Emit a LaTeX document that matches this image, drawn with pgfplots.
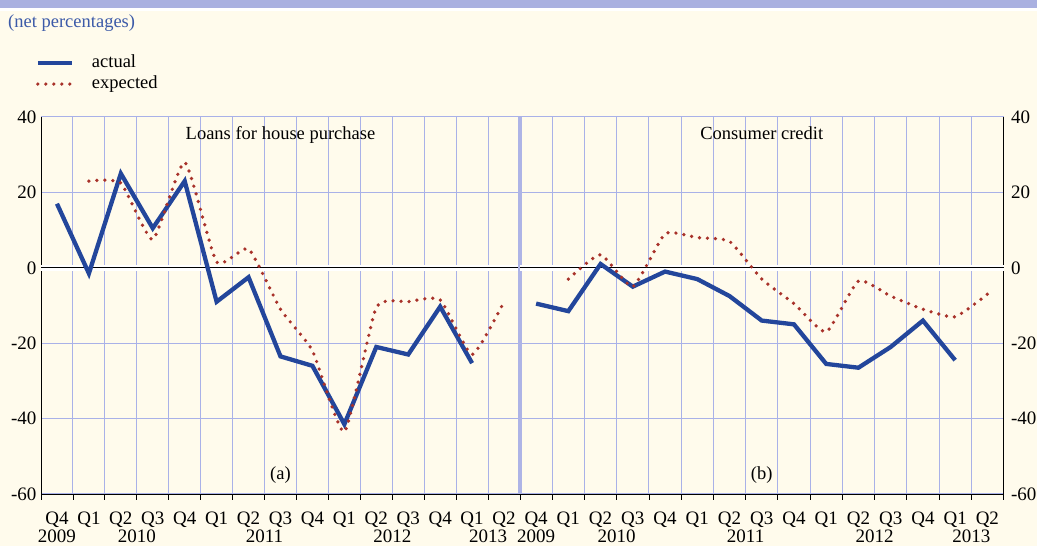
\documentclass[border=0pt]{standalone}
\usepackage{pgfplots}
\pgfplotsset{compat=1.18}
\usepackage{fontspec}
\setmainfont{Liberation Serif}
\definecolor{bg}{HTML}{FFFBEC}
\definecolor{band}{HTML}{A9B0E0}
\definecolor{gridc}{HTML}{A9B1E8}
\definecolor{sepc}{HTML}{AEB4E6}
\definecolor{actc}{HTML}{23469B}
\definecolor{expc}{HTML}{A8322A}
\definecolor{titc}{HTML}{3C5AA8}
\newcommand\fs{\fontsize{18.5}{21}\selectfont}
\newcommand\ft{\fontsize{19}{22}\selectfont}

\tikzset{yr/.style={font=\ft, anchor=base, yshift=-49pt}}
\pgfplotsset{
  panel/.style={
    scale only axis, anchor=south west,
    height=377pt, xmin=0, xmax=15, ymin=-60, ymax=40,
    clip=false,
    axis x line*=bottom,
    xtick={0.5,1.5,...,14.5},
    xticklabels={Q4,Q1,Q2,Q3,Q4,Q1,Q2,Q3,Q4,Q1,Q2,Q3,Q4,Q1,Q2},
    minor xtick={0,1,...,15},
    xminorgrids, ymajorgrids,
    grid style={gridc, line width=1pt},
    minor grid style={gridc, line width=1pt},
    major tick length=0pt, minor tick length=6pt, tick align=outside,
    tick style={black, line width=0.8pt},
    ytick={-60,-40,-20,0,20,40},
    yticklabels={-60,-40,-20,0,20,40},
    axis line style={-, black, line width=0.9pt},
    tick label style={font=\ft},
    xticklabel style={anchor=base, yshift=-31pt},
  },
  act/.style={actc, line width=4.3pt, line join=miter},
  expd/.style={expc, line width=3.7pt, line cap=round, dash pattern=on 0pt off 8pt, smooth, tension=0.3},
}

\begin{document}
\begin{tikzpicture}
\path[use as bounding box, fill=bg] (0,0) rectangle (1037pt,546pt);
\fill[band] (0,538pt) rectangle (1037pt,546pt);
\fill[white] (0,535pt) rectangle (1037pt,538pt);
\node[anchor=base west, font=\fs, text=titc, inner sep=0pt] at (8pt,518pt) {(net percentages)};

% (a) loans for house purchase
\begin{axis}[panel, at={(41pt,52pt)}, width=479pt,
  axis y line*=left,
  yticklabel style={xshift=-1pt},
  legend style={at={(axis description cs:-0.0116,1.1714)}, anchor=north west,
    draw=none, fill=none, font=\fs, inner sep=0pt, row sep=0pt,
    nodes={inner sep=2pt, text height=13pt, text depth=4pt}},
  legend cell align=left,
  legend image code/.code={\draw[#1] (0pt,0pt) -- (34pt,0pt); \path (50pt,0pt);},
]
\draw[white, line width=6pt] (axis cs:0,0) -- (axis cs:15,0);
\draw[black, line width=1.1pt] (axis cs:0,0) -- (axis cs:15,0);
\addplot[act] coordinates {(0.5,17) (1.5,-1.5) (2.5,25) (3.5,10.5) (4.5,23) (5.5,-9) (6.5,-2.5) (7.5,-23.5) (8.5,-26) (9.5,-41.5) (10.5,-21) (11.5,-23) (12.5,-10.3) (13.5,-25.3)};
\addlegendentry{actual}
\addplot[expd] coordinates {(1.5,23) (2.5,22.5) (3.5,7.5) (4.5,28) (5.5,1.5) (6.5,5) (7.5,-11) (8.5,-22) (9.5,-43.5) (10.5,-10.5) (11.5,-9) (12.5,-8.5) (13.5,-23) (14.5,-9)};
\addlegendentry{expected}
\node[font=\fs, anchor=base] at (axis description cs:0.5,0.9416) {Loans for house purchase};
\node[font=\fs, anchor=base] at (axis description cs:0.5,0.038) {(a)};
\node[yr] at (axis cs:0.5,-60) {2009};
\node[yr] at (axis cs:3,-60) {2010};
\node[yr] at (axis cs:7,-60) {2011};
\node[yr] at (axis cs:11,-60) {2012};
\node[yr] at (axis cs:14,-60) {2013};
\end{axis}

% (b) consumer credit
\begin{axis}[panel, at={(520pt,52pt)}, width=483.5pt,
  axis y line*=right,
  yticklabel style={xshift=4pt},
]
\draw[sepc, line width=4pt] (axis cs:0,-60) -- (axis cs:0,40);
\draw[white, line width=6pt] (axis cs:0,0) -- (axis cs:15,0);
\draw[black, line width=1.1pt] (axis cs:0,0) -- (axis cs:15,0);
\addplot[act] coordinates {(0.5,-9.5) (1.5,-11.5) (2.5,1) (3.5,-5) (4.5,-1) (5.5,-3) (6.5,-7.5) (7.5,-14) (8.5,-15) (9.5,-25.5) (10.5,-26.5) (11.5,-21) (12.5,-14) (13.5,-24.5)};
\addplot[expd] coordinates {(1.5,-3) (2.5,3.5) (3.5,-5) (4.5,9) (5.5,8) (6.5,7) (7.5,-3) (8.5,-9.5) (9.5,-17) (10.5,-3.5) (11.5,-7.5) (12.5,-11) (13.5,-13) (14.5,-7)};
\node[font=\fs, anchor=base] at (axis description cs:0.5,0.9416) {Consumer credit};
\node[font=\fs, anchor=base] at (axis description cs:0.5,0.038) {(b)};
\node[yr] at (axis cs:0.5,-60) {2009};
\node[yr] at (axis cs:3,-60) {2010};
\node[yr] at (axis cs:7,-60) {2011};
\node[yr] at (axis cs:11,-60) {2012};
\node[yr] at (axis cs:14,-60) {2013};
\end{axis}
\end{tikzpicture}
\end{document}
